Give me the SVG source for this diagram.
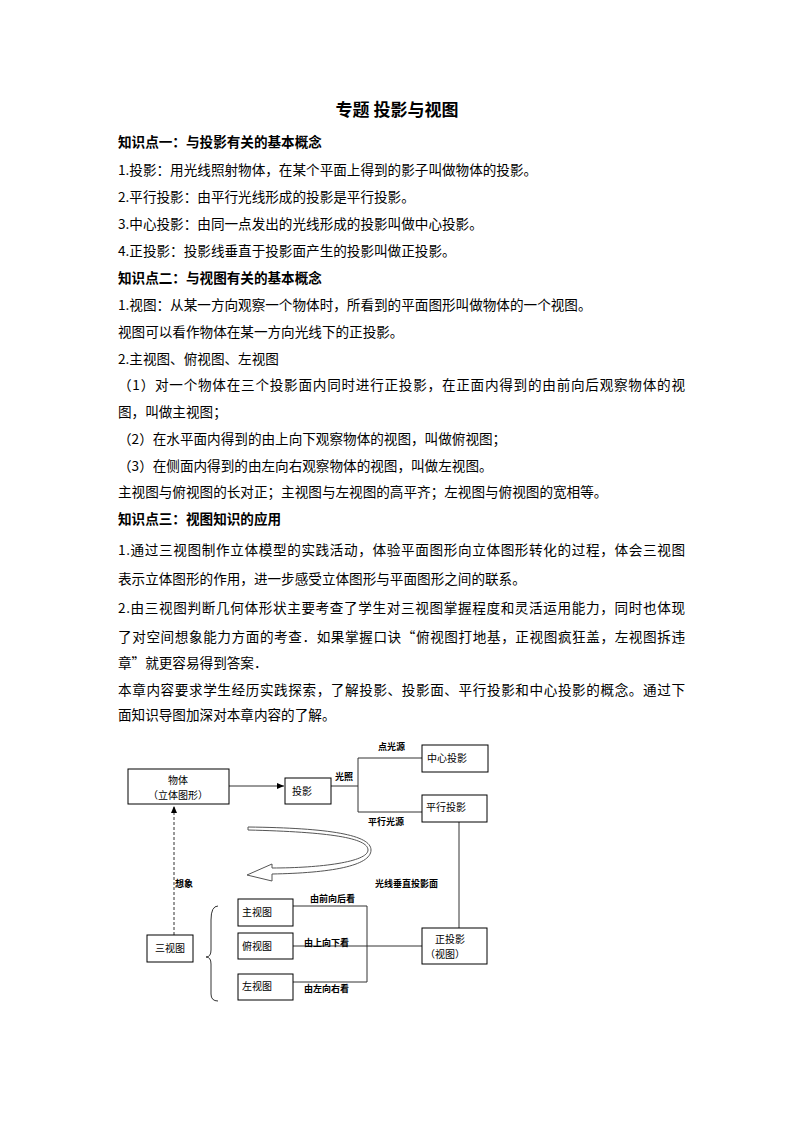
<svg xmlns="http://www.w3.org/2000/svg" width="794" height="1123" viewBox="0 0 794 1123">
<style>
text{font-family:"Noto Sans CJK SC","Liberation Sans",sans-serif;fill:#000}
.t{font-size:13.6px}
.b{font-weight:bold}
.n{font-size:10px}
.l{font-size:9px;font-weight:bold;font-family:"Noto Sans CJK SC",serif}
rect{fill:#fff;stroke:#000;stroke-width:1}
.c line,.c path{stroke:#333;stroke-width:1;fill:none}
</style>
<defs><marker id="a" markerWidth="8" markerHeight="8" refX="7" refY="4" orient="auto" markerUnits="userSpaceOnUse"><path d="M0,1 L7,4 L0,7 Z" fill="#000"/></marker></defs>
<rect x="0" y="0" width="794" height="1123" style="fill:#fff;stroke:none"/>
<text x="397" y="116" text-anchor="middle" font-size="17" class="b">专题  投影与视图</text>
<g class="t">
<text x="118" y="147" class="b">知识点一：与投影有关的基本概念</text>
<text x="118" y="175">1.投影：用光线照射物体，在某个平面上得到的影子叫做物体的投影。</text>
<text x="118" y="202">2.平行投影：由平行光线形成的投影是平行投影。</text>
<text x="118" y="229">3.中心投影：由同一点发出的光线形成的投影叫做中心投影。</text>
<text x="118" y="256">4.正投影：投影线垂直于投影面产生的投影叫做正投影。</text>
<text x="118" y="283" class="b">知识点二：与视图有关的基本概念</text>
<text x="118" y="310">1.视图：从某一方向观察一个物体时，所看到的平面图形叫做物体的一个视图。</text>
<text x="118" y="337">视图可以看作物体在某一方向光线下的正投影。</text>
<text x="118" y="364">2.主视图、俯视图、左视图</text>
<text x="118" y="390" textLength="567">（1）对一个物体在三个投影面内同时进行正投影，在正面内得到的由前向后观察物体的视</text>
<text x="118" y="417">图，叫做主视图；</text>
<text x="118" y="444">（2）在水平面内得到的由上向下观察物体的视图，叫做俯视图；</text>
<text x="118" y="471">（3）在侧面内得到的由左向右观察物体的视图，叫做左视图。</text>
<text x="118" y="497">主视图与俯视图的长对正；主视图与左视图的高平齐；左视图与俯视图的宽相等。</text>
<text x="118" y="524" class="b">知识点三：视图知识的应用</text>
<text x="118" y="555" textLength="567">1.通过三视图制作立体模型的实践活动，体验平面图形向立体图形转化的过程，体会三视图</text>
<text x="118" y="584">表示立体图形的作用，进一步感受立体图形与平面图形之间的联系。</text>
<text x="118" y="613" textLength="567">2.由三视图判断几何体形状主要考查了学生对三视图掌握程度和灵活运用能力，同时也体现</text>
<text x="118" y="642" textLength="567">了对空间想象能力方面的考查．如果掌握口诀“俯视图打地基，正视图疯狂盖，左视图拆违</text>
<text x="118" y="668">章”就更容易得到答案．</text>
<text x="118" y="695" textLength="567">本章内容要求学生经历实践探索，了解投影、投影面、平行投影和中心投影的概念。通过下</text>
<text x="118" y="720">面知识导图加深对本章内容的了解。</text>
</g>
<g class="c" id="connectors">
<line x1="229" y1="786" x2="284" y2="786" marker-end="url(#a)"/>
<line x1="331" y1="786" x2="358" y2="786"/>
<line x1="358" y1="758" x2="358" y2="812"/>
<line x1="358" y1="758" x2="422" y2="758"/>
<line x1="358" y1="812" x2="422" y2="812"/>
<line x1="459" y1="822" x2="459" y2="928"/>
<line x1="367" y1="906" x2="367" y2="982"/>
<line x1="293" y1="906" x2="367" y2="906"/>
<line x1="293" y1="946" x2="422" y2="946"/>
<line x1="293" y1="982" x2="367" y2="982"/>
<line x1="174" y1="935" x2="174" y2="806" stroke-dasharray="3,2" marker-end="url(#a)"/>
<path d="M218,906 Q211,906 211,920 L211,950 Q211,957 206,957 Q211,957 211,964 L211,994 Q211,1001 218,1001"/>
<path d="M248,830 C330,832 368,838 368,850 C368,862 320,868 272,868 L272,864 L247,875 L272,881 L272,874 C330,873 371,866 371,850 C371,835 330,828 248,827 Z" style="stroke:#555;fill:#fff"/>
</g>
<g id="n1"><rect x="128" y="769" width="101" height="35"/><text x="178" y="784" class="n" text-anchor="middle">物体</text><text x="178" y="799" class="n" text-anchor="middle">（立体图形）</text></g>
<g id="n2"><rect x="285" y="778" width="46" height="26"/><text x="302" y="795" class="n" text-anchor="middle">投影</text></g>
<g id="n3"><rect x="422" y="745" width="66" height="27"/><text x="447" y="762" class="n" text-anchor="middle">中心投影</text></g>
<g id="n4"><rect x="422" y="795" width="65" height="27"/><text x="446" y="811" class="n" text-anchor="middle">平行投影</text></g>
<g id="n5"><rect x="422" y="928" width="65" height="36"/><text x="450" y="943" class="n" text-anchor="middle">正投影</text><text x="445" y="958" class="n" text-anchor="middle">（视图）</text></g>
<g id="n6"><rect x="238" y="899" width="55" height="27"/><text x="257" y="916" class="n" text-anchor="middle">主视图</text></g>
<g id="n7"><rect x="238" y="933" width="55" height="26"/><text x="257" y="950" class="n" text-anchor="middle">俯视图</text></g>
<g id="n8"><rect x="238" y="974" width="55" height="26"/><text x="257" y="990" class="n" text-anchor="middle">左视图</text></g>
<g id="n9"><rect x="147" y="935" width="46" height="27"/><text x="170" y="952" class="n" text-anchor="middle">三视图</text></g>
<g id="labels" class="l">
<text x="378" y="750">点光源</text>
<text x="335" y="780">光照</text>
<text x="368" y="825">平行光源</text>
<text x="175" y="887">想象</text>
<text x="375" y="887">光线垂直投影面</text>
<text x="310" y="902">由前向后看</text>
<text x="304" y="946">由上向下看</text>
<text x="304" y="992">由左向右看</text>
</g>
</svg>
